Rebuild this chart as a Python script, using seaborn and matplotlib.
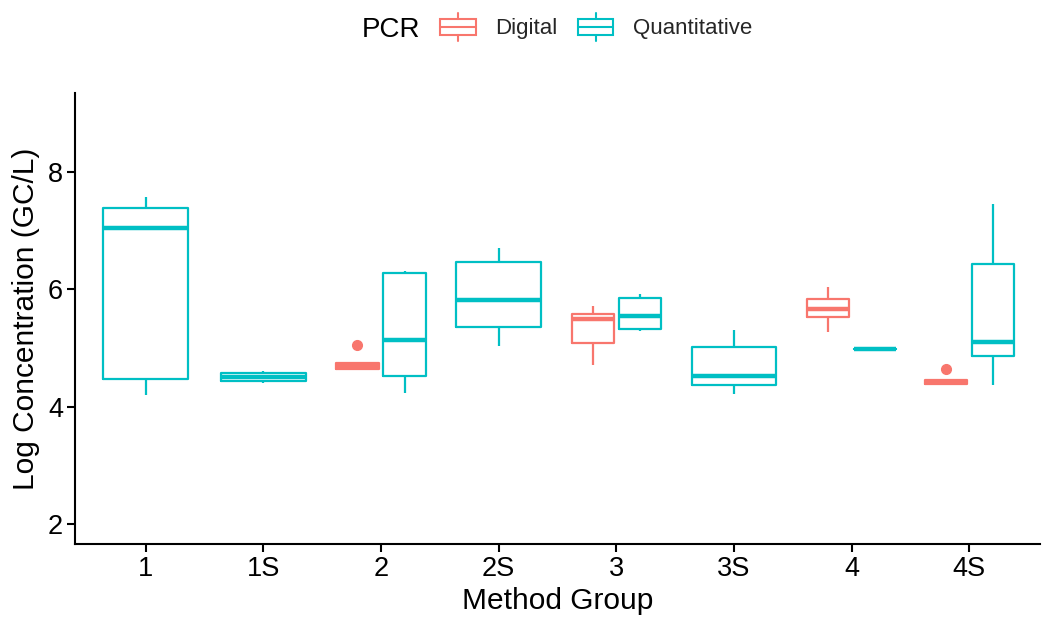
import matplotlib
matplotlib.use("Agg")
import matplotlib.pyplot as plt
import seaborn as sns
import pandas as pd
from matplotlib.patches import Patch, Rectangle
from matplotlib.lines import Line2D
from matplotlib.legend_handler import HandlerBase

# values
groups = ["1", "1S", "2", "2S", "3", "3S", "4", "4S"]
quant_values = [
    [4.20, 4.47, 7.04, 7.39, 7.57],
    [4.41, 4.44, 4.51, 4.57, 4.61],
    [4.23, 4.53, 5.13, 6.28, 6.31],
    [5.03, 5.36, 5.81, 6.46, 6.71],
    [5.29, 5.32, 5.55, 5.85, 5.92],
    [4.21, 4.37, 4.52, 5.02, 5.31],
    [4.98, 4.98, 4.98],
    [4.37, 4.87, 5.10, 6.43, 7.45],
]
digital_groups = ["2", "3", "4", "4S"]
digital_values = [
    [4.64, 4.64, 4.64, 4.70, 4.74, 4.74, 5.05],
    [4.71, 5.09, 5.49, 5.57, 5.71],
    [5.28, 5.52, 5.67, 5.83, 6.04],
    [4.39, 4.39, 4.39, 4.42, 4.45, 4.45, 4.65],
]
pcr_levels = ["Digital", "Quantitative"]

red = "#F8766D"
teal = "#00BFC4"

rows = []
for g, vals in zip(groups, quant_values):
    for v in vals:
        rows.append({"group": g, "PCR": "Quantitative", "conc": v})
for g, vals in zip(digital_groups, digital_values):
    for v in vals:
        rows.append({"group": g, "PCR": "Digital", "conc": v})
df = pd.DataFrame(rows)

sns.set_style("ticks")
plt.rcParams["font.family"] = ["Liberation Sans", "DejaVu Sans"]

fig = plt.figure(figsize=(10.5, 6.26), dpi=100)
ax = fig.add_axes([75 / 1050, 1 - 544 / 626, 965 / 1050, 451.3 / 626])

box_kw = dict(
    fill=False,
    linewidth=1.6,
    showcaps=False,
    medianprops={"linewidth": 3.2},
    flierprops={"marker": "o", "markerfacecolor": red,
                "markeredgecolor": red, "markersize": 7},
)

# groups with only one PCR type get a full-width box
single = df[~df["group"].isin(digital_groups)]
dual = df[df["group"].isin(digital_groups)]
sns.boxplot(data=single, x="group", y="conc", order=groups, color=teal,
            width=0.72, ax=ax, **box_kw)
sns.boxplot(data=dual, x="group", y="conc", hue="PCR", order=groups,
            hue_order=pcr_levels, palette=[red, teal], width=0.8, gap=0.1,
            dodge=True, legend=False, ax=ax, **box_kw)

ax.set_xlim(-0.6, 7.6)
ax.set_ylim(1.663, 9.345)
ax.set_yticks([2, 4, 6, 8])
sns.despine(ax=ax)
for side in ["left", "bottom"]:
    ax.spines[side].set_linewidth(1.5)
    ax.spines[side].set_color("black")
ax.tick_params(length=5.5, width=1.5, color="black", labelsize=19.5,
               labelcolor="black", pad=3)
ax.set_xlabel("Method Group", fontsize=21.5, color="black", labelpad=4)
ax.set_ylabel("Log Concentration (GC/L)", fontsize=21.5, color="black",
              labelpad=6)


# legend key drawn like a small box plot
class BoxKey(HandlerBase):
    def create_artists(self, legend, orig_handle, xdescent, ydescent,
                       width, height, fontsize, trans):
        c = orig_handle.get_edgecolor()
        x0, y0 = -xdescent, -ydescent
        lw = 1.5
        box = Rectangle((x0, y0 + height * 0.22), width, height * 0.56,
                        facecolor="none", edgecolor=c, linewidth=lw,
                        transform=trans)
        mid = Line2D([x0, x0 + width], [y0 + height / 2] * 2, color=c,
                     linewidth=lw, transform=trans)
        top = Line2D([x0 + width / 2] * 2, [y0 + height * 0.78, y0 + height],
                     color=c, linewidth=lw, transform=trans)
        bot = Line2D([x0 + width / 2] * 2, [y0, y0 + height * 0.22],
                     color=c, linewidth=lw, transform=trans)
        return [box, mid, top, bot]


handles = [Patch(edgecolor=red, facecolor="none"),
           Patch(edgecolor=teal, facecolor="none")]
fig.legend(handles, pcr_levels, handler_map={Patch: BoxKey()},
           loc="center left", bbox_to_anchor=(440 / 1050, 1 - 27 / 626),
           ncol=2, frameon=False, fontsize=16, handlelength=1.6,
           handleheight=1.6, handletextpad=0.9, columnspacing=0.9,
           borderpad=0, borderaxespad=0)
fig.text(361.7 / 1050, 1 - 37.3 / 626, "PCR", fontsize=20, ha="left",
         va="baseline", color="black")

fig.savefig("out.png", dpi=100)
